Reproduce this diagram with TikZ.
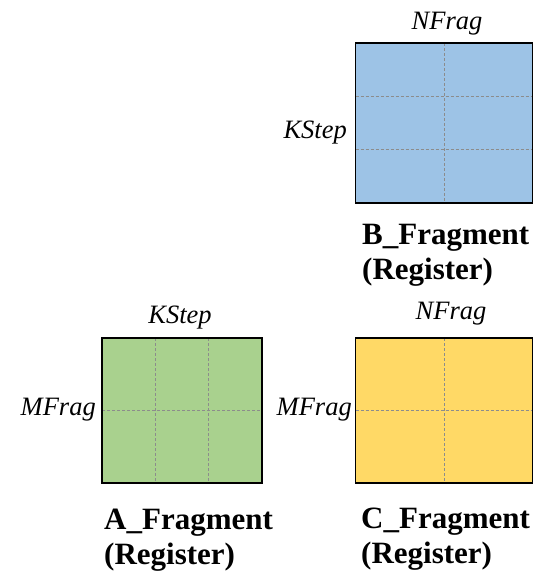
\documentclass[tikz,border=0pt]{standalone}
\usepackage{fontspec}
\setmainfont{LiberationSerif}[
  Extension=.ttf,
  UprightFont=*-Regular,
  BoldFont=*-Bold,
  ItalicFont=*-Italic,
  BoldItalicFont=*-BoldItalic]
\usetikzlibrary{calc}
\definecolor{fragblue}{HTML}{9DC3E6}
\definecolor{fraggreen}{HTML}{A9D18E}
\definecolor{fragyellow}{HTML}{FFD966}
\definecolor{gridgray}{HTML}{8C8C8C}
\begin{document}
\begin{tikzpicture}[x=1pt,y=1pt,
  frag/.style={draw=black, line width=1.5pt, anchor=north west, inner sep=0pt, outer sep=0pt},
  grid/.style={draw=gridgray, line width=0.9pt, dash pattern=on 3pt off 2pt},
  dimlabel/.style={font=\fontsize{26.5}{30}\selectfont\itshape, inner sep=0pt},
  title/.style={font=\fontsize{31}{35}\selectfont\bfseries, align=left, anchor=west, inner sep=0pt}]
\useasboundingbox (0,0) rectangle (534,-574);

% B fragment: KStep x NFrag, split 3 x 2
\node[frag, fill=fragblue, minimum width=177pt, minimum height=160pt] (B) at (355.5,-43) {};
\draw[grid] ($(B.north west)!0.5!(B.north east)$) -- ($(B.south west)!0.5!(B.south east)$);
\draw[grid] ($(B.north west)!1/3!(B.south west)$) -- ($(B.north east)!1/3!(B.south east)$);
\draw[grid] ($(B.north west)!2/3!(B.south west)$) -- ($(B.north east)!2/3!(B.south east)$);
\node[frag, fill=none, minimum width=177pt, minimum height=160pt] at (B.north west) {};
\node[dimlabel] (bn) at (447,-24) {NFrag};
\node[dimlabel, anchor=east] (bk) at (347,-133) {KStep};
\node[title] (bt) at (362,-255) {B\_Fragment\\(Register)};

% A fragment: MFrag x KStep, split 2 x 3
\node[frag, fill=fraggreen, minimum width=160pt, minimum height=145pt] (A) at (102,-338) {};
\draw[grid] ($(A.north west)!1/3!(A.north east)$) -- ($(A.south west)!1/3!(A.south east)$);
\draw[grid] ($(A.north west)!2/3!(A.north east)$) -- ($(A.south west)!2/3!(A.south east)$);
\draw[grid] ($(A.north west)!0.5!(A.south west)$) -- ($(A.north east)!0.5!(A.south east)$);
\node[frag, fill=none, minimum width=160pt, minimum height=145pt] at (A.north west) {};
\node[dimlabel] (ak) at (180,-318) {KStep};
\node[dimlabel, anchor=east] (am) at (96,-410) {MFrag};
\node[title] (at) at (104,-540) {A\_Fragment\\(Register)};

% C fragment: MFrag x NFrag, split 2 x 2
\node[frag, fill=fragyellow, minimum width=177pt, minimum height=145pt] (C) at (355.5,-338) {};
\draw[grid] ($(C.north west)!0.5!(C.north east)$) -- ($(C.south west)!0.5!(C.south east)$);
\draw[grid] ($(C.north west)!0.5!(C.south west)$) -- ($(C.north east)!0.5!(C.south east)$);
\node[frag, fill=none, minimum width=177pt, minimum height=145pt] at (C.north west) {};
\node[dimlabel] (cn) at (451,-314) {NFrag};
\node[dimlabel, anchor=east] (cm) at (352,-410) {MFrag};
\node[title] (ct) at (361,-539) {C\_Fragment\\(Register)};
\end{tikzpicture}
\end{document}
